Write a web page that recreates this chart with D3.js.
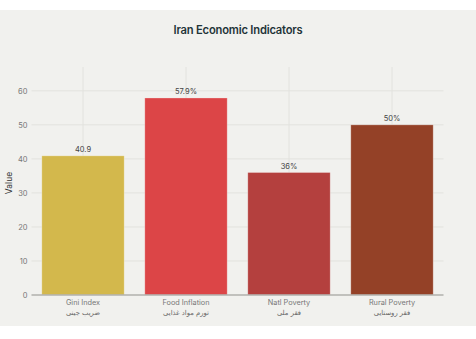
<!DOCTYPE html>
<html>
<head>
<meta charset="utf-8">
<script src="https://cdn.jsdelivr.net/npm/d3@7"></script>
<style>
  html, body { margin: 0; padding: 0; background: #ffffff; }
  svg { display: block; }
  text { font-family: Inter, "Noto Sans", sans-serif; }
</style>
</head>
<body>
<svg id="chart" width="476" height="339"></svg>
<script>
// Iran economic indicators, one bar per indicator
const categories = ["Gini Index", "Food Inflation", "Natl Poverty", "Rural Poverty"];
const categoriesFa = ["ضریب جینی", "تورم مواد غذایی", "فقر ملی", "فقر روستایی"];
const values = [40.9, 57.9, 36, 50];
const valueLabels = ["40.9", "57.9%", "36%", "50%"];
const barColors = ["#d3b84c", "#dc4547", "#b4403e", "#944127"];
const yTicks = [0, 10, 20, 30, 40, 50, 60];

const svg = d3.select("#chart");
const W = 476, H = 339;

// panel background
svg.append("rect").attr("x", 0).attr("y", 10).attr("width", W).attr("height", 316)
  .attr("fill", "#f1f1ee");

const plot = { left: 31.5, right: 443.5, top: 67, bottom: 295 };

const x = d3.scaleBand().domain(categories).range([plot.left, plot.right]).paddingInner(0.2).paddingOuter(0.1);
const y = d3.scaleLinear().domain([0, 67]).range([plot.bottom, plot.top]);

// gridlines
svg.append("g").selectAll("line.h").data(yTicks.filter(d => d > 0)).join("line")
  .attr("x1", plot.left).attr("x2", plot.right)
  .attr("y1", d => y(d)).attr("y2", d => y(d))
  .attr("stroke", "#e2e2de").attr("stroke-width", 1);
svg.append("g").selectAll("line.v").data(categories).join("line")
  .attr("x1", d => x(d) + x.bandwidth() / 2).attr("x2", d => x(d) + x.bandwidth() / 2)
  .attr("y1", plot.top).attr("y2", plot.bottom)
  .attr("stroke", "#e2e2de").attr("stroke-width", 1);

// bars
svg.append("g").selectAll("rect").data(values).join("rect")
  .attr("x", (d, i) => x(categories[i]))
  .attr("width", x.bandwidth())
  .attr("y", d => y(d))
  .attr("height", d => y(0) - y(d))
  .attr("fill", (d, i) => barColors[i])
  .attr("stroke", "rgba(255,255,255,0.35)")
  .attr("stroke-width", 0.8);

// value labels
svg.append("g").selectAll("text").data(values).join("text")
  .attr("x", (d, i) => x(categories[i]) + x.bandwidth() / 2)
  .attr("y", d => y(d) - 3.5)
  .attr("text-anchor", "middle")
  .attr("font-size", 7.5)
  .attr("fill", "#444")
  .text((d, i) => valueLabels[i]);

// zero line
svg.append("line").attr("x1", plot.left).attr("x2", plot.right)
  .attr("y1", y(0)).attr("y2", y(0)).attr("stroke", "#b0b0ac").attr("stroke-width", 1.5);

// y axis
const yAxis = d3.axisLeft(y).tickValues(yTicks).tickSize(0).tickPadding(4);
const gy = svg.append("g").attr("transform", `translate(${plot.left},0)`).call(yAxis);
gy.select(".domain").remove();
gy.selectAll("text").attr("font-size", 7.5).attr("fill", "#777").attr("font-family", "Inter, sans-serif");

// x axis labels (English + Persian)
const xl = svg.append("g").selectAll("g").data(categories).join("g")
  .attr("transform", d => `translate(${x(d) + x.bandwidth() / 2},0)`);
xl.append("text").attr("y", 304.5).attr("text-anchor", "middle")
  .attr("font-size", 7.3).attr("fill", "#777").text(d => d);
xl.append("text").attr("y", 314.5).attr("text-anchor", "middle")
  .attr("font-size", 6.8).attr("fill", "#666")
  .style("font-family", "'DejaVu Sans', 'Noto Sans', sans-serif")
  .text((d, i) => categoriesFa[i]);

// axis title
svg.append("text").attr("transform", `translate(12,${(plot.top + plot.bottom) / 2 + 2}) rotate(-90)`)
  .attr("text-anchor", "middle").attr("font-size", 8.5).attr("fill", "#333").text("Value");

// chart title
svg.append("text").attr("x", 238).attr("y", 34).attr("text-anchor", "middle")
  .attr("font-size", 11.2).attr("font-weight", 600).attr("fill", "#1f3438")
  .attr("letter-spacing", -0.2)
  .text("Iran Economic Indicators");
</script>
</body>
</html>
